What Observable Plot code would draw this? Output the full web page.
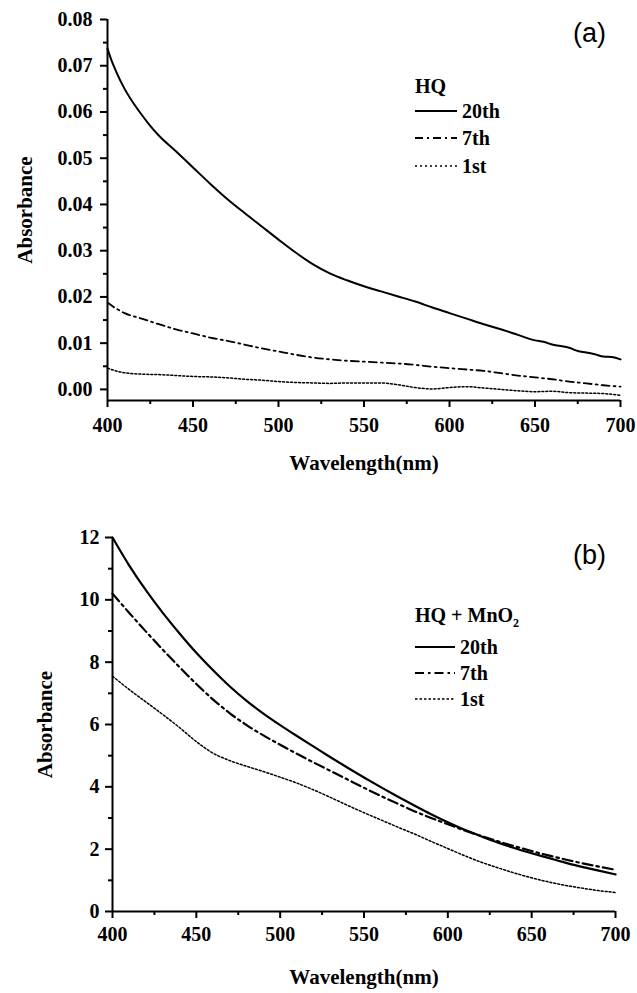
<!DOCTYPE html>
<html><head><meta charset="utf-8">
<script src="https://cdn.jsdelivr.net/npm/d3@7"></script>
<script src="https://cdn.jsdelivr.net/npm/@observablehq/plot@0.6"></script>
<style>
body{margin:0;background:#fff;}
#wrap{position:relative;width:637px;height:993px;overflow:hidden;background:#fff;}
.panel{position:absolute;left:0;}
</style></head><body><div id="wrap"></div>
<script>
// ---------- Panel (a): HQ ----------
const waveA20 = [400,402,405,410,415,420,425,430,440,450,460,470,480,490,500,510,520,530,540,550,560,570,580,590,600,610,620,630,640,650,655,660,665,670,675,680,685,690,695,700];
const absA20  = [0.0737,0.0715,0.0688,0.0650,0.0620,0.0594,0.0570,0.0549,0.0515,0.0480,0.0445,0.0412,0.0382,0.0353,0.0324,0.0296,0.0271,0.0251,0.0236,0.0223,0.0212,0.0201,0.0190,0.0177,0.0165,0.0153,0.0141,0.0130,0.0118,0.0106,0.0103,0.0097,0.0094,0.0090,0.0083,0.0080,0.0076,0.0071,0.0070,0.0065];
const waveA7  = [400,405,410,420,430,440,450,460,470,480,490,500,510,520,530,540,550,560,570,580,590,600,610,620,630,640,650,660,670,680,690,700];
const absA7   = [0.0188,0.0175,0.0165,0.0153,0.0141,0.0130,0.0121,0.0112,0.0105,0.0097,0.0089,0.0082,0.0075,0.0069,0.0065,0.0062,0.0060,0.0058,0.0056,0.0053,0.0049,0.0046,0.0043,0.0040,0.0035,0.0030,0.0026,0.0022,0.0017,0.0013,0.0009,0.0006];
const waveA1  = [400,405,410,420,430,440,450,460,470,480,490,500,510,520,530,540,550,560,570,580,590,600,610,620,630,640,650,660,670,680,690,700];
const absA1   = [0.0046,0.0040,0.0036,0.0033,0.0032,0.0030,0.0028,0.0027,0.0025,0.0022,0.0020,0.0017,0.0015,0.0014,0.0013,0.0014,0.0014,0.0014,0.0010,0.0004,0.0001,0.0004,0.0006,0.0003,0.0000,-0.0003,-0.0005,-0.0004,-0.0007,-0.0008,-0.0009,-0.0013];
const yTicksA = [0,0.01,0.02,0.03,0.04,0.05,0.06,0.07,0.08];
const yMinorA = [0.005,0.015,0.025,0.035,0.045,0.055,0.065,0.075];

// ---------- Panel (b): HQ + MnO2 ----------
const waveB   = [400,410,420,430,440,450,460,470,480,490,500,510,520,530,540,550,560,570,580,590,600,610,620,630,640,650,660,670,680,690,700];
const absB20  = [12.0,11.1,10.3,9.58,8.92,8.3,7.74,7.22,6.76,6.35,5.98,5.63,5.29,4.95,4.62,4.3,3.99,3.69,3.4,3.12,2.86,2.62,2.41,2.21,2.03,1.87,1.72,1.57,1.43,1.31,1.19];
const absB7   = [10.2,9.58,8.98,8.4,7.84,7.3,6.8,6.36,5.98,5.65,5.35,5.06,4.78,4.51,4.24,3.97,3.71,3.46,3.22,3.0,2.8,2.6,2.42,2.25,2.09,1.94,1.8,1.67,1.55,1.44,1.34];
const absB1   = [7.55,7.12,6.72,6.32,5.9,5.45,5.08,4.84,4.66,4.49,4.31,4.12,3.9,3.66,3.41,3.17,2.94,2.71,2.49,2.25,2.02,1.79,1.58,1.4,1.23,1.08,0.95,0.84,0.75,0.67,0.61];
const yTicksB = [0,2,4,6,8,10,12];
const yMinorB = [1,3,5,7,9,11];

const xTicks = [400,450,500,550,600,650,700];
const xMinor = [425,475,525,575,625,675];
const seriesNames = ["20th","7th","1st"];

const serif = "'Liberation Serif','Times New Roman',serif";
const sans = "'Liberation Sans',Arial,sans-serif";
const toRows = (w, a) => w.map((x, i) => ({x, y: a[i]}));
const blank = () => "";

function panel(opts) {
  const {height, margins, yDomain, yTicks, yMinor, yFormat, series, tag, tagDx, tagDy, ylabDx, xlabDy, xPad, yPad} = opts;
  const txt = {fontSize: 20, fontWeight: "bold", fontFamily: serif, label: null};
  const svg = Plot.plot({
    width: 637, height,
    marginLeft: margins[0], marginTop: margins[1], marginRight: margins[2], marginBottom: margins[3],
    style: {fontFamily: serif, background: "white", color: "black", overflow: "visible"},
    x: {domain: [400, 700], axis: null},
    y: {domain: yDomain, axis: null},
    marks: [
      ...series.map(s => Plot.line(toRows(s.w, s.v), {x: "x", y: "y", stroke: "black", strokeWidth: s.sw, strokeDasharray: s.dash, curve: "monotone-x"})),
      Plot.ruleX([400], {stroke: "black", strokeWidth: 2}),
      Plot.ruleY([yDomain[0]], {stroke: "black", strokeWidth: 2}),
      Plot.axisY(yMinor, {anchor: "left", tickSize: 4, strokeWidth: 2, tickFormat: blank, label: null}),
      Plot.axisY(yTicks, {anchor: "left", tickSize: 7, tickPadding: yPad, strokeWidth: 2, tickFormat: yFormat, ...txt}),
      Plot.axisX(xMinor, {anchor: "bottom", tickSize: 4, strokeWidth: 2, tickFormat: blank, label: null}),
      Plot.axisX(xTicks, {anchor: "bottom", tickSize: 7, tickPadding: xPad, strokeWidth: 2, tickFormat: d3.format("d"), ...txt}),
      Plot.text(["Wavelength(nm)"], {text: d => d, frameAnchor: "bottom", dy: xlabDy, lineAnchor: "middle", fontSize: 21, fontWeight: "bold", fontFamily: serif}),
      Plot.text(["Absorbance"], {text: d => d, frameAnchor: "left", dx: ylabDx, rotate: -90, lineAnchor: "middle", textAnchor: "middle", fontSize: 21, fontWeight: "bold", fontFamily: serif}),
      Plot.text([tag], {text: d => d, frameAnchor: "top-right", dx: tagDx, dy: tagDy, textAnchor: "middle", lineAnchor: "middle", fontSize: 27, fontFamily: sans})
    ]
  });
  d3.select(svg).selectAll("text").each(function() {
    const el = d3.select(this);
    if (el.text() === tag) el.style("font-family", sans).style("font-weight", "normal");
    else el.style("font-family", serif).style("font-weight", "bold");
  });
  return svg;
}

const wrap = document.getElementById("wrap");

const chartA = panel({
  height: 485, margins: [107, 19, 17, 85],
  yDomain: [-0.0024, 0.08], yTicks: yTicksA, yMinor: yMinorA, yFormat: d3.format(".2f"),
  series: [
    {w: waveA20, v: absA20, sw: 2, dash: null},
    {w: waveA7, v: absA7, sw: 1.8, dash: "8,4,2,4"},
    {w: waveA1, v: absA1, sw: 1.5, dash: "2,2"}
  ],
  tag: "(a)", tagDx: -31, tagDy: 14, ylabDx: -82, xlabDy: 63, xPad: 10, yPad: 8
});
chartA.classList.add("panel"); chartA.style.top = "0px";
wrap.appendChild(chartA);

const chartB = panel({
  height: 508, margins: [112, 52, 22, 82],
  yDomain: [0, 12], yTicks: yTicksB, yMinor: yMinorB, yFormat: d3.format("d"),
  series: [
    {w: waveB, v: absB20, sw: 2.2, dash: null},
    {w: waveB, v: absB7, sw: 2.2, dash: "10,4,2.5,4"},
    {w: waveB, v: absB1, sw: 1.5, dash: "2,2"}
  ],
  tag: "(b)", tagDx: -26, tagDy: 18, ylabDx: -67, xlabDy: 66, xPad: 8, yPad: 6
});
chartB.classList.add("panel"); chartB.style.top = "485px";
wrap.appendChild(chartB);

// ---------- Legends (overlay) ----------
const dashes = [null, "8,4,2,4", "2,3"];
const dashesB = [null, "9,4,2.5,4", "2.5,2"];
function legend(title, sub, x0, yTitle, rowYs, lineLen, dashArr) {
  const svg = d3.select(wrap).append("svg")
    .attr("width", 637).attr("height", 993)
    .style("position", "absolute").style("left", 0).style("top", 0)
    .style("pointer-events", "none");
  const t = svg.append("text").attr("x", x0).attr("y", yTitle)
    .attr("font-family", serif).attr("font-weight", "bold").attr("font-size", 20).text(title);
  if (sub) t.append("tspan").attr("font-size", 12).attr("dy", 5).text(sub);
  seriesNames.forEach((name, i) => {
    svg.append("line").attr("x1", x0).attr("x2", x0 + lineLen).attr("y1", rowYs[i]).attr("y2", rowYs[i])
      .attr("stroke", "black").attr("stroke-width", i === 2 ? 1.6 : 2).attr("stroke-dasharray", dashArr[i]);
    svg.append("text").attr("x", x0 + lineLen + 5).attr("y", rowYs[i] + 7)
      .attr("font-family", serif).attr("font-weight", "bold").attr("font-size", 20).text(name);
  });
}
legend("HQ", null, 415, 93, [111, 138, 166], 42, dashes);
legend("HQ + MnO", "2", 415, 622, [647, 673, 699], 40, dashesB);
</script>
</body></html>
